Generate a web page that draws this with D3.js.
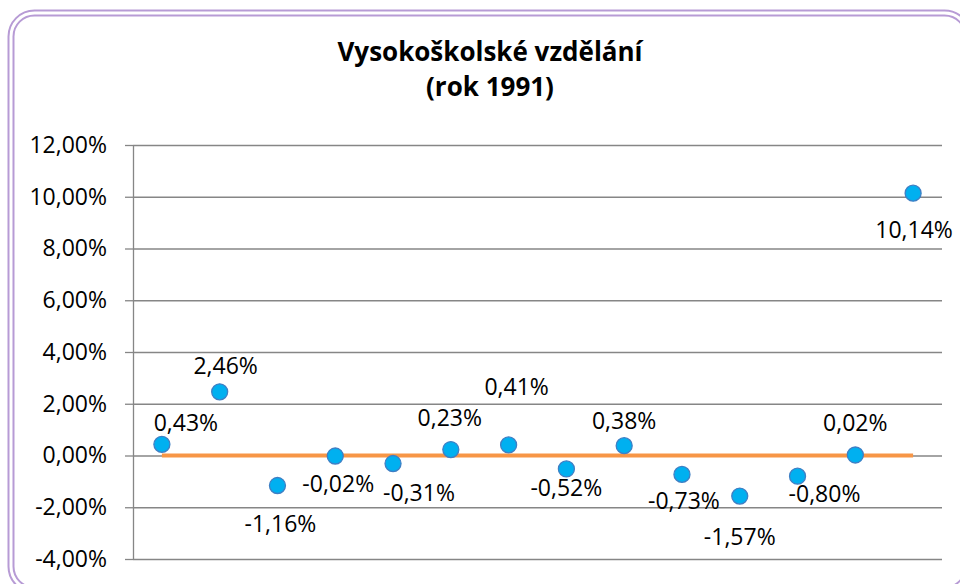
<!DOCTYPE html>
<html>
<head>
<meta charset="utf-8">
<script src="https://cdn.jsdelivr.net/npm/d3@7"></script>
<style>
  body { margin: 0; background: #fff; }
  svg { display: block; font-family: 'Open Sans', sans-serif; }
</style>
</head>
<body>
<div class="viz"></div>
<script>
'use strict'

const width = 960,
  height = 584;
const margin = {top: 145, right: 18, bottom: 25, left: 133};

// data
const title_lines = ['Vysokoškolské vzdělání', '(rok 1991)'];
const categories = [1, 2, 3, 4, 5, 6, 7, 8, 9, 10, 11, 12, 13, 14];
const values = [0.43, 2.46, -1.16, -0.02, -0.31, 0.23, 0.41, -0.52, 0.38, -0.73, -1.57, -0.80, 0.02, 10.14];
const baseline = [0, 0, 0, 0, 0, 0, 0, 0, 0, 0, 0, 0, 0, 0];
const y_ticks = [-4, -2, 0, 2, 4, 6, 8, 10, 12];

// where excel put each data label, relative to its point (px)
const label_offset = [[24, -22], [6, -26], [3, 38], [3, 28], [26, 29], [-1, -32], [8, -58],
  [0, 19], [0, -25], [2, 26], [0, 41], [27, 18], [0, -32], [1, 37]];

// czech style: decimal comma, plain hyphen for minus
const cz = d3.formatLocale({decimal: ',', thousands: ' ', grouping: [3], currency: ['', ' Kč'], minus: '-'});
const fmt = v => cz.format('.2f')(v) + '%';

let svg = d3.select('.viz')
  .append('svg')
  .attr('width', width)
  .attr('height', height);

// frame
svg.append('rect')
  .attr('x', 8.5).attr('y', 10.5)
  .attr('width', 962).attr('height', 582)
  .attr('rx', 26).attr('ry', 26)
  .attr('fill', 'none')
  .attr('stroke', '#b79bd5')
  .attr('stroke-width', 2);
svg.append('rect')
  .attr('x', 13.5).attr('y', 15.5)
  .attr('width', 952).attr('height', 572)
  .attr('rx', 21).attr('ry', 21)
  .attr('fill', 'none')
  .attr('stroke', '#b79bd5')
  .attr('stroke-width', 2);

svg.append('g')
  .selectAll('text')
  .data(title_lines)
  .join('text')
  .attr('x', 490)
  .attr('y', (d, i) => 61 + i * 35)
  .attr('text-anchor', 'middle')
  .style('font-weight', 'bold')
  .style('font-size', '26px')
  .style('fill', '#000')
  .text(d => d);

let x = d3.scaleBand()
  .domain(categories)
  .range([margin.left, width - margin.right]);
let y = d3.scaleLinear()
  .domain([-4, 12])
  .range([height - margin.bottom, margin.top]);
const cx = d => x(d) + x.bandwidth() / 2;

// grid
svg.append('g')
  .attr('transform', `translate(${margin.left},0)`)
  .call(d3.axisLeft(y).tickValues(y_ticks).tickSize(-(width - margin.right - margin.left)).tickFormat(''))
  .call(g => g.select('.domain').remove())
  .call(g => g.selectAll('line').attr('stroke', '#868686').attr('stroke-width', 1.3));

// y axis
svg.append('g')
  .attr('transform', `translate(${margin.left},0)`)
  .call(d3.axisLeft(y).tickValues(y_ticks).tickSize(8).tickSizeOuter(0).tickPadding(18).tickFormat(fmt))
  .call(g => g.select('.domain').attr('stroke', '#868686').attr('stroke-width', 1.3))
  .call(g => g.selectAll('line').attr('stroke', '#868686').attr('stroke-width', 1.3))
  .call(g => g.selectAll('text')
    .style('font-family', "'Open Sans', sans-serif")
    .style('font-size', '23px')
    .attr('fill', '#000'));

// orange zero series
let line = d3.line()
  .x((d, i) => cx(categories[i]))
  .y(d => y(d));
svg.append('path')
  .datum(baseline)
  .attr('d', line)
  .attr('fill', 'none')
  .attr('stroke', '#f79646')
  .attr('stroke-width', 4);

// points
svg.append('g')
  .selectAll('circle')
  .data(values)
  .join('circle')
  .attr('cx', (d, i) => cx(categories[i]))
  .attr('cy', d => y(d))
  .attr('r', 8)
  .attr('fill', '#00b0f0')
  .attr('stroke', '#3f7fc4')
  .attr('stroke-width', 1.3);

// data labels
svg.append('g')
  .selectAll('text')
  .data(values)
  .join('text')
  .attr('x', (d, i) => cx(categories[i]) + label_offset[i][0])
  .attr('y', (d, i) => y(d) + label_offset[i][1])
  .attr('dy', '0.36em')
  .attr('text-anchor', 'middle')
  .style('font-size', '23px')
  .style('fill', '#000')
  .text(d => fmt(d));
</script>
</body>
</html>
